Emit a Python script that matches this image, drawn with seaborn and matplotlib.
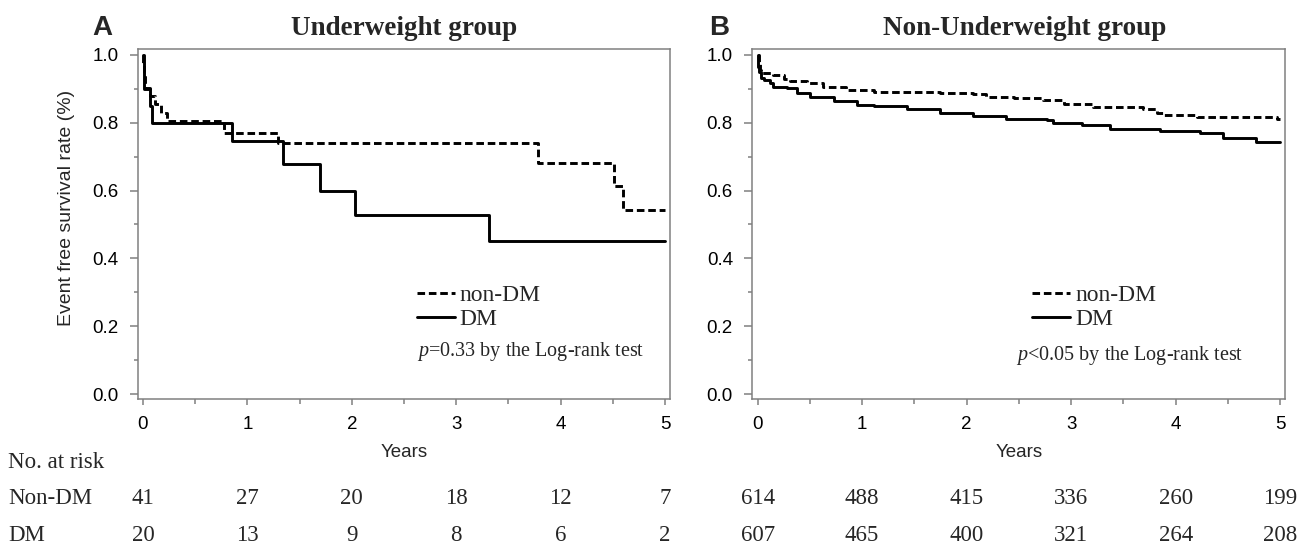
import matplotlib.pyplot as plt
import matplotlib.transforms as mtransforms
from matplotlib.lines import Line2D
from matplotlib.ticker import MultipleLocator
import pandas as pd
import seaborn as sns

# panel A: underweight group (Kaplan-Meier steps)
uw_nondm_years = [0, 0.005, 0.01, 0.015, 0.02, 0.07, 0.12, 0.17, 0.23, 0.775, 1.29, 3.78, 4.51, 4.60, 5.0]
uw_nondm_surv = [1.0, 0.976, 0.951, 0.927, 0.902, 0.878, 0.854, 0.829, 0.805, 0.770, 0.739, 0.680, 0.613, 0.544, 0.544]
uw_dm_years = [0, 0.01, 0.063, 0.09, 0.855, 1.34, 1.70, 2.03, 3.31, 5.0]
uw_dm_surv = [1.0, 0.90, 0.85, 0.80, 0.745, 0.677, 0.60, 0.527, 0.45, 0.45]

# panel B: non-underweight group
nuw_nondm_years = [0, 0.01, 0.02, 0.03, 0.15, 0.25, 0.31, 0.47, 0.63, 0.85, 1.11, 1.43, 1.75,
                   2.06, 2.19, 2.45, 2.73, 2.93, 3.21, 3.69, 3.82, 3.88, 4.20, 4.97, 5.0]
nuw_nondm_surv = [1.0, 0.975, 0.955, 0.946, 0.941, 0.930, 0.924, 0.916, 0.906, 0.897, 0.892, 0.890, 0.889,
                  0.885, 0.875, 0.872, 0.867, 0.855, 0.846, 0.840, 0.828, 0.823, 0.816, 0.810, 0.810]
nuw_dm_years = [0, 0.005, 0.01, 0.03, 0.06, 0.12, 0.15, 0.28, 0.38, 0.50, 0.73, 0.95, 1.11, 1.43,
                1.75, 2.06, 2.38, 2.77, 2.83, 3.10, 3.37, 3.85, 4.23, 4.45, 4.77, 5.0]
nuw_dm_surv = [1.0, 0.965, 0.951, 0.931, 0.926, 0.916, 0.906, 0.902, 0.889, 0.877, 0.865, 0.852, 0.849, 0.840,
               0.830, 0.820, 0.810, 0.808, 0.800, 0.792, 0.783, 0.776, 0.770, 0.754, 0.744, 0.744]

risk_years = [0, 1, 2, 3, 4, 5]
uw_risk_nondm = [41, 27, 20, 18, 12, 7]
uw_risk_dm = [20, 13, 9, 8, 6, 2]
nuw_risk_nondm = [614, 488, 415, 336, 260, 199]
nuw_risk_dm = [607, 465, 400, 321, 264, 208]

groups = ["non-DM", "DM"]
panel_titles = ["Underweight group", "Non-Underweight group"]
panel_letters = ["A", "B"]
p_texts = ["$p$=0.33 by the Log-rank test", "$p$<0.05 by the Log-rank test"]


def km_frame(nondm_x, nondm_y, dm_x, dm_y):
    a = pd.DataFrame({"years": nondm_x, "survival": nondm_y, "group": "non-DM"})
    b = pd.DataFrame({"years": dm_x, "survival": dm_y, "group": "DM"})
    return pd.concat([a, b], ignore_index=True)


panels = [
    (km_frame(uw_nondm_years, uw_nondm_surv, uw_dm_years, uw_dm_surv), uw_risk_nondm, uw_risk_dm),
    (km_frame(nuw_nondm_years, nuw_nondm_surv, nuw_dm_years, nuw_dm_surv), nuw_risk_nondm, nuw_risk_dm),
]

sns.set_style("ticks")
plt.rcParams["font.family"] = ["Liberation Sans", "DejaVu Sans"]
plt.rcParams["mathtext.fontset"] = "custom"
plt.rcParams["mathtext.it"] = "Liberation Serif:italic"
plt.rcParams["mathtext.rm"] = "Liberation Serif"

SERIF = ["Liberation Serif", "DejaVu Serif"]
GREY = "#808080"
LW = 2.1
DASH = (2.6, 1.3)

fig = plt.figure(figsize=(13.13, 5.45), dpi=100)
axes = [fig.add_axes([0.1049, 0.2679, 0.4056, 0.6417]),
        fig.add_axes([0.5730, 0.2679, 0.4060, 0.6417])]

legend_x = [0.524, 0.525]
p_pos = [(0.524, 0.146), (0.495, 0.134)]
letter_x = [-0.086, -0.081]
title_x = [0.5, 0.51]

for i, (ax, (df, risk_nondm, risk_dm)) in enumerate(zip(axes, panels)):
    sns.lineplot(
        data=df, x="years", y="survival", hue="group", style="group",
        hue_order=groups, style_order=groups,
        palette={"non-DM": "black", "DM": "black"},
        dashes={"non-DM": DASH, "DM": ""},
        drawstyle="steps-post", linewidth=LW, estimator=None, sort=False,
        legend=False, ax=ax,
    )
    ax.set_xlim(-0.05, 5.05)
    ax.set_ylim(-0.0147, 1.0168)
    ax.xaxis.set_major_locator(MultipleLocator(1))
    ax.xaxis.set_minor_locator(MultipleLocator(0.5))
    ax.yaxis.set_major_locator(MultipleLocator(0.2))
    ax.yaxis.set_minor_locator(MultipleLocator(0.1))
    ax.yaxis.set_major_formatter(plt.FormatStrFormatter("%.1f"))
    for s in ax.spines.values():
        s.set_visible(True)
        s.set_color(GREY)
        s.set_linewidth(1.1)
    ax.tick_params(axis="both", which="both", direction="out", color=GREY, width=1.1, labelsize=13.5, labelcolor="black")
    ax.tick_params(axis="y", which="major", length=6, pad=8)
    ax.tick_params(axis="y", which="minor", length=3)
    ax.tick_params(axis="x", which="major", length=4, pad=8)
    ax.tick_params(axis="x", which="minor", length=3.5)

    ax.set_xlabel("Years", fontsize=13.5)
    ax.xaxis.set_label_coords(0.5, -0.13)
    if i == 0:
        ax.set_ylabel("Event free survival rate (%)", fontsize=14)
        ax.yaxis.set_label_coords(-0.117, 0.546)
    else:
        ax.set_ylabel("")

    ax.set_title(panel_titles[i], fontsize=19.5, fontweight="bold", family=SERIF, pad=10, x=title_x[i])
    ax.text(letter_x[i], 1.041, panel_letters[i], transform=ax.transAxes, fontsize=20,
            fontweight="bold", ha="left", va="baseline")

    handles = [Line2D([], [], color="black", lw=LW, dashes=DASH),
               Line2D([], [], color="black", lw=LW)]
    ax.legend(handles, groups, loc="upper left", bbox_to_anchor=(legend_x[i], 0.327),
              frameon=False, prop={"family": SERIF, "size": 17}, handlelength=1.62,
              handletextpad=0.2, borderpad=0, borderaxespad=0, labelspacing=0.1)
    ax.text(p_pos[i][0], p_pos[i][1], p_texts[i], transform=ax.transAxes, family=SERIF,
            fontsize=14.5, ha="left", va="center_baseline")

    # number-at-risk table under each panel
    trans = mtransforms.blended_transform_factory(ax.transData, fig.transFigure)
    for yr, n1, n2 in zip(risk_years, risk_nondm, risk_dm):
        ax.text(yr, 0.086, str(n1), transform=trans, ha="center", va="center", family=SERIF, fontsize=16.5)
        ax.text(yr, 0.018, str(n2), transform=trans, ha="center", va="center", family=SERIF, fontsize=16.5)

fig.text(0.006, 0.152, "No. at risk", ha="left", va="center", family=SERIF, fontsize=16.5)
fig.text(0.006, 0.086, "Non-DM", ha="left", va="center", family=SERIF, fontsize=16.5)
fig.text(0.006, 0.018, "DM", ha="left", va="center", family=SERIF, fontsize=16.5)

fig.savefig("out.png", dpi=100)
